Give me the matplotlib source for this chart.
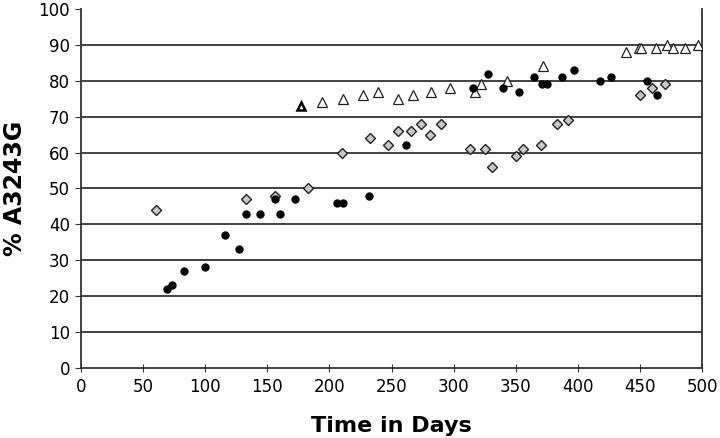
import matplotlib.pyplot as plt

# black circles
circle_days = [69, 73, 83, 100, 116, 127, 133, 144, 156, 160, 172, 206, 211, 232,
               262, 316, 328, 340, 353, 365, 371, 375, 387, 397, 418, 427, 456, 464]
circle_vals = [22, 23, 27, 28, 37, 33, 43, 43, 47, 43, 47, 46, 46, 48,
               62, 78, 82, 78, 77, 81, 79, 79, 81, 83, 80, 81, 80, 76]

# grey diamonds
diamond_days = [60, 133, 156, 183, 210, 233, 247, 255, 266, 274, 281, 290,
                313, 325, 331, 350, 356, 370, 383, 392, 450, 460, 470]
diamond_vals = [44, 47, 48, 50, 60, 64, 62, 66, 66, 68, 65, 68,
                61, 61, 56, 59, 61, 62, 68, 69, 76, 78, 79]

# open triangles (first one drawn bold)
tri_days = [177, 194, 211, 227, 239, 255, 267, 282, 297, 317, 322, 343, 372,
            439, 449, 451, 463, 472, 477, 486, 497]
tri_vals = [73, 74, 75, 76, 77, 75, 76, 77, 78, 77, 79, 80, 84,
            88, 89, 89, 89, 90, 89, 89, 90]

fig = plt.figure(figsize=(7.2, 4.38), dpi=100)
ax = fig.add_axes([0.1125, 0.160, 0.8625, 0.8195])

for y in range(10, 100, 10):
    ax.axhline(y, color='#333333', lw=1.3, zorder=1)

ax.plot(diamond_days, diamond_vals, ls='none', marker='D', ms=5,
        mfc='#c8c8c8', mec='#222222', mew=1.0, zorder=3)
ax.plot(tri_days[1:], tri_vals[1:], ls='none', marker='^', ms=6.5,
        mfc='white', mec='#222222', mew=0.9, zorder=3)
ax.plot(tri_days[:1], tri_vals[:1], ls='none', marker='^', ms=6,
        mfc='white', mec='black', mew=1.8, zorder=3)
ax.plot(circle_days, circle_vals, ls='none', marker='o', ms=5,
        mfc='black', mec='black', zorder=4)

ax.set_xlim(0, 500)
ax.set_ylim(0, 100)
ax.set_xticks(range(0, 501, 50))
ax.set_yticks(range(0, 101, 10))
ax.spines['top'].set_visible(False)
for s in ['left', 'bottom', 'right']:
    ax.spines[s].set_color('#333333')
    ax.spines[s].set_linewidth(1.3)
ax.tick_params(axis='x', direction='inout', length=6, labelsize=12, pad=4, color='#333333')
ax.tick_params(axis='y', direction='out', length=4, labelsize=12, pad=4, color='#333333')

ax.set_xlabel('Time in Days', fontsize=16, fontweight='bold', labelpad=15)
ax.set_ylabel('% A3243G', fontsize=17, fontweight='bold', labelpad=8)

fig.savefig('out.png', dpi=100)
